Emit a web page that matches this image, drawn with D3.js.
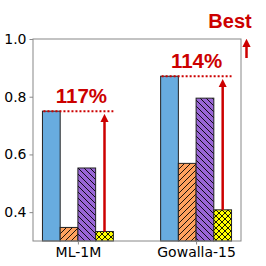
<!DOCTYPE html>
<html>
<head>
<meta charset="utf-8">
<script src="https://cdn.jsdelivr.net/npm/d3@7"></script>
<style>
  body { margin: 0; background: #fff; }
  text { font-family: "DejaVu Sans", sans-serif; }
</style>
</head>
<body>
<div class="chart"></div>
<script>
var w = 266;
var h = 266;

// data
var datasets = ["ML-1M", "Gowalla-15"];
var methods = ["best", "m2", "m3", "m4"];
var scores = [
    [0.750, 0.347, 0.553, 0.333],   // ML-1M
    [0.871, 0.569, 0.795, 0.408]    // Gowalla-15
];
var gains = ["117%", "114%"];
var yTicks = [0.4, 0.6, 0.8, 1.0];

var colors = ["#68acdf", "#ffa15e", "#9966d6", "#ffff00"];
var hatches = [null, "fwd", "back", "cross"];
var red = "#cc0000";
var boldFont = "'Liberation Sans', Arial, sans-serif";

var margin = {top: 39, right: 25, bottom: 25, left: 33};

var svg = d3.select(".chart")
            .append("svg")
            .attr("width", w)
            .attr("height", h);

var defs = svg.append("defs");

// hatch patterns
function addHatch(id, bg, kind) {
    var s = 6;
    var p = defs.append("pattern")
        .attr("id", id)
        .attr("patternUnits", "userSpaceOnUse")
        .attr("width", s)
        .attr("height", s);
    p.append("rect").attr("width", s).attr("height", s).attr("fill", bg);
    var paths = [];
    if (kind == "fwd" || kind == "cross") paths.push("M0," + s + " L" + s + ",0 M-1,1 L1,-1 M" + (s - 1) + "," + (s + 1) + " L" + (s + 1) + "," + (s - 1));
    if (kind == "back" || kind == "cross") paths.push("M0,0 L" + s + "," + s + " M-1," + (s - 1) + " L1," + (s + 1) + " M" + (s - 1) + ",-1 L" + (s + 1) + ",1");
    paths.forEach(function(d) {
        p.append("path").attr("d", d).attr("stroke", "#000").attr("stroke-width", 0.9);
    });
}
hatches.forEach(function(k, i) {
    if (k) addHatch("hatch" + i, colors[i], k);
});

defs.append("marker")
    .attr("id", "head")
    .attr("viewBox", "0 0 10 10")
    .attr("refX", 5).attr("refY", 5)
    .attr("markerWidth", 3.4).attr("markerHeight", 3.4)
    .attr("markerUnits", "strokeWidth")
    .attr("orient", "auto")
    .append("path")
    .attr("d", "M0,0 L10,5 L0,10 Z")
    .attr("fill", red);

var x = d3.scaleLinear()
    .domain([-0.38, 1.38])
    .range([margin.left, w - margin.right]);

var y = d3.scaleLinear()
    .domain([0.3, 1.0])
    .range([h - margin.bottom, margin.top]);

var barW = 0.15;
var offsets = [-1.5, -0.5, 0.5, 1.5];
var labelShift = [3.5, 0.5];

var g = svg.append("g");

datasets.forEach(function(ds, gi) {
    var grp = g.append("g");
    grp.selectAll("rect")
        .data(scores[gi])
        .enter()
        .append("rect")
        .attr("x", function(d, i) { return x(gi + offsets[i] * barW - barW / 2); })
        .attr("width", function() { return x(barW) - x(0); })
        .attr("y", function(d) { return y(d); })
        .attr("height", function(d) { return y(0.3) - y(d); })
        .attr("fill", function(d, i) { return hatches[i] ? "url(#hatch" + i + ")" : colors[i]; })
        .attr("stroke", "#222")
        .attr("stroke-width", 1);
});

// improvement annotations
datasets.forEach(function(ds, gi) {
    var top = scores[gi][0];
    var low = scores[gi][3];
    var xa = x(gi + offsets[3] * barW);
    svg.append("line")
        .attr("x1", x(gi + offsets[0] * barW - barW / 2) + 1)
        .attr("x2", x(gi + offsets[3] * barW + barW / 2))
        .attr("y1", y(top))
        .attr("y2", y(top))
        .attr("stroke", red)
        .attr("stroke-width", 2)
        .attr("stroke-dasharray", "2,2");
    svg.append("line")
        .attr("x1", xa).attr("x2", xa)
        .attr("y1", y(low))
        .attr("y2", y(top) + 7)
        .attr("stroke", red)
        .attr("stroke-width", 2.5)
        .attr("marker-end", "url(#head)");
    svg.append("text")
        .attr("x", x(gi) + labelShift[gi])
        .attr("y", y(top) - 8.5)
        .attr("text-anchor", "middle")
        .style("font-size", "20.5px")
        .style("font-weight", "bold")
        .style("font-family", boldFont)
        .attr("fill", red)
        .text(gains[gi]);
});

// axes
var yAxis = d3.axisLeft(y).tickValues(yTicks).tickSize(3.5).tickPadding(3).tickFormat(d3.format(".1f"));
var xAxis = d3.axisBottom(x).tickValues([0, 1]).tickSize(3.5).tickPadding(3).tickFormat(function(d) { return datasets[d]; });

var ya = svg.append("g")
    .attr("transform", "translate(" + margin.left + ",0)")
    .call(yAxis);
var xa = svg.append("g")
    .attr("transform", "translate(0," + (h - margin.bottom) + ")")
    .call(xAxis);

[ya, xa].forEach(function(a) {
    a.select(".domain").remove();
    a.selectAll(".tick line").attr("stroke", "#888");
    a.selectAll(".tick text")
        .style("font-size", "14px")
        .attr("fill", "#000");
});

// frame
svg.append("rect")
    .attr("x", margin.left)
    .attr("y", margin.top)
    .attr("width", w - margin.left - margin.right)
    .attr("height", h - margin.top - margin.bottom)
    .attr("fill", "none")
    .attr("stroke", "#888")
    .attr("stroke-width", 1);

// "Best" marker
svg.append("text")
    .attr("x", 230)
    .attr("y", 27.7)
    .attr("text-anchor", "middle")
    .style("font-size", "20px")
    .style("font-weight", "bold")
    .style("font-family", boldFont)
    .attr("fill", red)
    .text("Best");
svg.append("line")
    .attr("x1", 246.5).attr("x2", 246.5)
    .attr("y1", 58)
    .attr("y2", 43)
    .attr("stroke", red)
    .attr("stroke-width", 2.5)
    .attr("marker-end", "url(#head)");
</script>
</body>
</html>
